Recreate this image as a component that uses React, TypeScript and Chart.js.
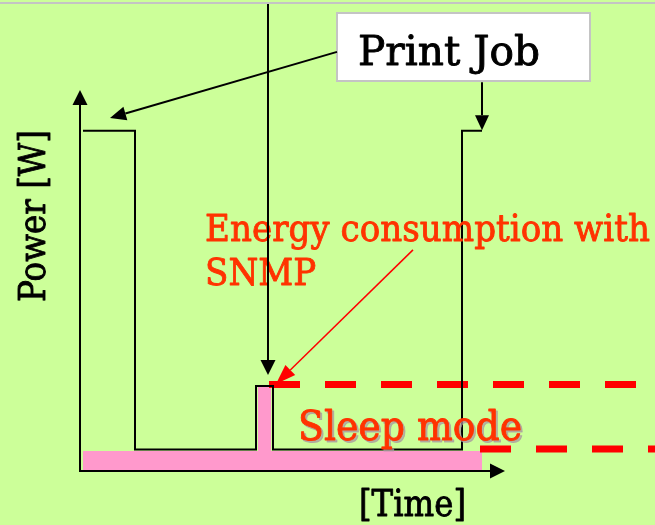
import React, { useEffect, useRef } from "react";
import { Chart, registerables } from "chart.js";
Chart.register(...registerables);

// Power trace of a printer (time and power in arbitrary units)
const stepTimes = [0.6, 11, 11, 35.2, 35.2, 38.6, 38.6, 76.4, 76.4, 80.4];
const stepPower = [100, 100, 6.3, 6.3, 25, 25, 6.3, 6.3, 100, 100];
// Energy consumed in sleep mode with periodic SNMP wake-up (pink area)
const sleepBandTimes = [0.6, 35.6, 35.6, 38.2, 38.2, 80.4];
const sleepBandPower = [5.9, 5.9, 25, 25, 5.9, 5.9];
// Dashed reference levels
const snmpLevelTimes = [37.8, 115];
const snmpLevelPower = [25.4, 25.4];
const sleepLevelTimes = [80, 115];
const sleepLevelPower = [6.5, 6.5];
// Axis ranges
const timeMax = 115;
const powerMax = 112;
// Annotation anchors (time, power)
const printJobArrowA = [[51.4, 123.2], [6, 103.8]];
const printJobArrowB = [[80.4, 114.3], [80.4, 100.2]];
const snmpPollTarget = [37.6, 28.2];
const snmpArrow = [[66.6, 65], [39.2, 25.6]];

const FONT = '"DejaVu Serif", serif';

function toPts(xs: number[], ys: number[]) {
  return xs.map((x, i) => ({ x, y: ys[i] }));
}

function arrow(ctx: CanvasRenderingContext2D, x1: number, y1: number, x2: number, y2: number, color: string, lw: number, hl: number, hw: number) {
  const a = Math.atan2(y2 - y1, x2 - x1);
  const bx = x2 - hl * Math.cos(a);
  const by = y2 - hl * Math.sin(a);
  ctx.save();
  ctx.strokeStyle = color;
  ctx.fillStyle = color;
  ctx.lineWidth = lw;
  ctx.beginPath();
  ctx.moveTo(x1, y1);
  ctx.lineTo(bx, by);
  ctx.stroke();
  ctx.beginPath();
  ctx.moveTo(x2, y2);
  ctx.lineTo(bx + (hw / 2) * Math.sin(a), by - (hw / 2) * Math.cos(a));
  ctx.lineTo(bx - (hw / 2) * Math.sin(a), by + (hw / 2) * Math.cos(a));
  ctx.closePath();
  ctx.fill();
  ctx.restore();
}

function drawText(ctx: CanvasRenderingContext2D, text: string, color: string, s: number, shadow?: string) {
  if (shadow) {
    ctx.fillStyle = shadow;
    ctx.strokeStyle = shadow;
    ctx.lineWidth = 0.9;
    ctx.fillText(text, 2 / s, 2);
    ctx.strokeText(text, 2 / s, 2);
  }
  ctx.fillStyle = color;
  ctx.strokeStyle = color;
  ctx.lineWidth = 0.9;
  ctx.fillText(text, 0, 0);
  ctx.strokeText(text, 0, 0);
}

function fitText(ctx: CanvasRenderingContext2D, text: string, x: number, y: number, size: number, width: number, color: string, rot = 0, shadow?: string) {
  ctx.save();
  ctx.font = `${size}px ${FONT}`;
  const w = ctx.measureText(text).width;
  const s = width / w;
  ctx.translate(x, y);
  ctx.rotate(rot);
  ctx.scale(s, 1);
  ctx.textBaseline = "alphabetic";
  ctx.textAlign = "left";
  ctx.lineJoin = "round";
  drawText(ctx, text, color, s, shadow);
  ctx.restore();
  return s;
}

const annotations = {
  id: "annotations",
  afterDatasetsDraw(chart: any) {
    const { ctx, chartArea } = chart;
    const xs = chart.scales.x;
    const ys = chart.scales.y;
    const px = (t: number) => xs.getPixelForValue(t);
    const py = (p: number) => ys.getPixelForValue(p);

    // top border
    ctx.save();
    ctx.strokeStyle = "#c4c4c4";
    ctx.lineWidth = 2;
    ctx.beginPath();
    ctx.moveTo(0, 3);
    ctx.lineTo(655, 3);
    ctx.stroke();
    ctx.restore();

    // axes
    arrow(ctx, chartArea.left, chartArea.bottom + 1, chartArea.left, chartArea.top, "#000", 2, 15, 15);
    arrow(ctx, chartArea.left - 1, chartArea.bottom, px(85), chartArea.bottom, "#000", 2, 15, 15);

    // Red annotation text (under the black arrow)
    const s = fitText(ctx, "Energy consumption with", 205, 241, 37, 445, "#ff3300");
    ctx.save();
    ctx.font = `37px ${FONT}`;
    ctx.translate(205, 285);
    ctx.scale(s, 1);
    ctx.lineJoin = "round";
    drawText(ctx, "SNMP", "#ff3300", s);
    ctx.restore();
    arrow(ctx, px(snmpArrow[0][0]), py(snmpArrow[0][1]), px(snmpArrow[1][0]), py(snmpArrow[1][1]), "#ff0000", 1.5, 20, 14);

    fitText(ctx, "Sleep mode", 298, 440, 41, 224, "#ff3300", 0, "rgba(170,150,160,0.7)");

    // Print Job box
    const bx1 = px(51.4), bx2 = px(102), by1 = 13, by2 = 81;
    ctx.save();
    ctx.fillStyle = "#ffffff";
    ctx.fillRect(bx1, by1, bx2 - bx1, by2 - by1);
    ctx.strokeStyle = "#c4c4c4";
    ctx.lineWidth = 2;
    ctx.strokeRect(bx1, by1, bx2 - bx1, by2 - by1);
    ctx.restore();
    fitText(ctx, "Print Job", bx1 + 21, 65, 41, 182, "#000");

    arrow(ctx, px(printJobArrowA[0][0]), py(printJobArrowA[0][1]), px(printJobArrowA[1][0]), py(printJobArrowA[1][1]), "#000", 2, 16, 14);
    arrow(ctx, px(printJobArrowB[0][0]), py(printJobArrowB[0][1]), px(printJobArrowB[1][0]), py(printJobArrowB[1][1]), "#000", 2, 15, 14);

    // SNMP poll arrow from top
    arrow(ctx, px(snmpPollTarget[0]), 4, px(snmpPollTarget[0]), py(snmpPollTarget[1]), "#000", 2, 15, 15);

    // axis titles
    fitText(ctx, "Power [W]", 45, 302, 38, 172, "#000", -Math.PI / 2);
    fitText(ctx, "[Time]", 359, 516, 37, 107, "#000");
  },
};

export default function App() {
  const ref = useRef<HTMLCanvasElement>(null);
  useEffect(() => {
    const chart = new Chart(ref.current!, {
      type: "line",
      data: {
        datasets: [
          {
            label: "Power",
            data: toPts(stepTimes, stepPower),
            borderColor: "#000000",
            borderWidth: 2,
            pointRadius: 0,
            fill: false,
            order: 0,
          },
          {
            label: "SNMP level",
            data: toPts(snmpLevelTimes, snmpLevelPower),
            borderColor: "#ff0000",
            borderWidth: 7,
            borderDash: [31, 25],
            borderCapStyle: "butt",
            pointRadius: 0,
            fill: false,
            order: 1,
          },
          {
            label: "Sleep level",
            data: toPts(sleepLevelTimes, sleepLevelPower),
            borderColor: "#ff0000",
            borderWidth: 7,
            borderDash: [31, 25],
            borderCapStyle: "butt",
            pointRadius: 0,
            fill: false,
            order: 2,
          },
          {
            label: "Sleep energy",
            data: toPts(sleepBandTimes, sleepBandPower),
            borderWidth: 0,
            borderColor: "rgba(0,0,0,0)",
            backgroundColor: "#ff99cc",
            pointRadius: 0,
            fill: "origin",
            order: 3,
          },
        ],
      },
      options: {
        animation: false,
        responsive: false,
        devicePixelRatio: 1,
        layout: { padding: { left: 80, right: 0, top: 90, bottom: 54 } },
        scales: {
          x: { type: "linear", min: 0, max: timeMax, display: false },
          y: { type: "linear", min: 0, max: powerMax, display: false },
        },
        plugins: { legend: { display: false }, tooltip: { enabled: false } },
        elements: { line: { tension: 0 } },
      },
      plugins: [annotations],
    });
    return () => chart.destroy();
  }, []);
  return (
    <div style={{ position: "fixed", left: 0, top: 0, width: 655, height: 525, background: "#ccff99" }}>
      <canvas ref={ref} width={655} height={525} style={{ display: "block" }} />
    </div>
  );
}
